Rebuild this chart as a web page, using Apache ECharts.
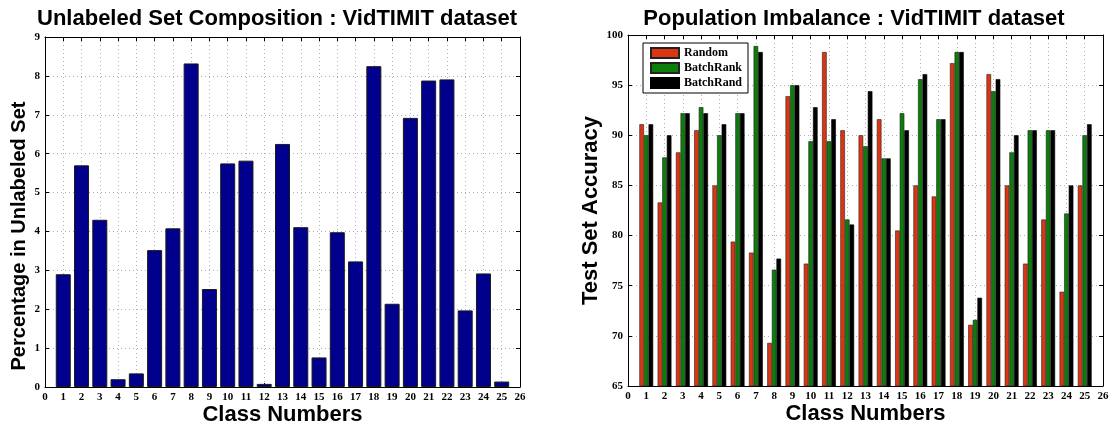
<!DOCTYPE html>
<html>
<head>
<meta charset="utf-8">
<script src="https://cdn.jsdelivr.net/npm/echarts@6/dist/echarts.min.js"></script>
<style>html,body{margin:0;padding:0;background:#fff;}#c{width:1110px;height:427px;}</style>
</head>
<body>
<div id="c"></div>
<script>
// ---- data ----
const classes = [1,2,3,4,5,6,7,8,9,10,11,12,13,14,15,16,17,18,19,20,21,22,23,24,25];
const unlabeledPct = [2.9,5.7,4.3,0.2,0.35,3.52,4.08,8.32,2.52,5.75,5.82,0.08,6.25,4.11,0.76,3.98,3.23,8.25,2.14,6.92,7.88,7.91,1.97,2.92,0.14];
const randomAcc    = [91.1,83.3,88.3,90.5,85.0,79.4,78.3,69.3,93.9,77.2,98.3,90.5,90.0,91.6,80.5,85.0,83.9,97.2,71.1,96.1,85.0,77.2,81.6,74.4,85.0];
const batchRankAcc = [90.0,87.8,92.2,92.8,90.0,92.2,98.9,76.6,95.0,89.4,89.4,81.6,88.9,87.7,92.2,95.6,91.6,98.3,71.6,94.4,88.3,90.5,90.5,82.2,90.0];
const batchRandAcc = [91.1,90.0,92.2,92.2,91.1,92.2,98.3,77.7,95.0,92.8,91.6,81.1,94.4,87.7,90.5,96.1,91.6,98.3,73.8,95.6,90.0,90.5,90.5,85.0,91.1];
const seriesNames = ['Random','BatchRank','BatchRand'];

const pair = (vals) => classes.map((c,i)=>[c, vals[i]]);
const tickFont = {fontFamily:'Liberation Serif, Times New Roman, serif', fontWeight:'bold', fontSize:11, color:'#000'};
const nameFont = {fontFamily:'Liberation Sans, Arial, sans-serif', fontWeight:'bold', fontSize:22, color:'#000'};
const splitDot = {show:true, lineStyle:{type:[1,3], color:'#b0b0b0', width:1}};

function xAx(gi, pos, showLabel){
  return {
    type:'value', gridIndex:gi, min:0, max:26, interval:1, position:pos,
    axisLine:{show:true, onZero:false, lineStyle:{color:'#000', width:1}},
    axisTick:{show:true, inside:true, length:4, lineStyle:{color:'#000'}},
    axisLabel:Object.assign({show:showLabel, margin:5}, tickFont),
    splitLine: showLabel ? splitDot : {show:false},
    name: showLabel ? 'Class Numbers' : '', nameLocation:'middle', nameGap:17,
    nameMoveOverlap:false,
    nameTextStyle: nameFont
  };
}
function yAx(gi, pos, min, max, interval, showLabel, name, gap, nameStyle){
  return {
    type:'value', gridIndex:gi, min:min, max:max, interval:interval, position:pos,
    axisLine:{show:true, onZero:false, lineStyle:{color:'#000', width:1}},
    axisTick:{show:true, inside:true, length:4, lineStyle:{color:'#000'}},
    axisLabel:Object.assign({show:showLabel, margin:5}, tickFont),
    splitLine: showLabel ? splitDot : {show:false},
    name: name || '', nameLocation:'middle', nameGap:gap || 20, nameRotate:90,
    nameTextStyle: nameStyle || nameFont
  };
}

const chart = echarts.init(document.getElementById('c'), null, {renderer:'canvas'});
chart.setOption({
  animation:false,
  backgroundColor:'#fff',
  title:[
    {text:'Unlabeled Set Composition : VidTIMIT dataset', left:272, top:3, textAlign:'center',
     textStyle:{fontFamily:'Liberation Sans, Arial, sans-serif', fontWeight:'bold', fontSize:22, color:'#000'}},
    {text:'Population Imbalance : VidTIMIT dataset', left:849, top:3, textAlign:'center',
     textStyle:{fontFamily:'Liberation Sans, Arial, sans-serif', fontWeight:'bold', fontSize:22, color:'#000'}}
  ],
  legend:{
    data:seriesNames, orient:'vertical', left:643, top:43,
    itemWidth:28, itemHeight:10, itemGap:3, padding:[4,6,4,7],
    borderColor:'#000', borderWidth:1, backgroundColor:'#fff',
    textStyle:{fontFamily:'Liberation Serif, Times New Roman, serif', fontWeight:'bold', fontSize:12, color:'#000'},
    icon:'rect'
  },
  grid:[
    {left:45, right:590, top:37, bottom:40, outerBoundsMode:'none', containLabel:false},
    {left:628, right:7, top:35, bottom:41, outerBoundsMode:'none', containLabel:false}
  ],
  xAxis:[ xAx(0,'bottom',true), xAx(0,'top',false), xAx(1,'bottom',true), xAx(1,'top',false) ],
  yAxis:[
    yAx(0,'left',0,9,1,true,'Percentage in Unlabeled Set',16,
        Object.assign({}, nameFont, {fontSize:20, padding:[0,48,0,0]})),
    yAx(0,'right',0,9,1,false),
    yAx(1,'left',65,100,5,true,'Test Set Accuracy',26),
    yAx(1,'right',65,100,5,false)
  ],
  series:[
    {type:'bar', xAxisIndex:0, yAxisIndex:0, data:pair(unlabeledPct), barWidth:15,
     itemStyle:{color:'#00008c', borderColor:'#1a1a1a', borderWidth:1}},
    {name:seriesNames[0], type:'bar', xAxisIndex:2, yAxisIndex:2, data:pair(randomAcc), barWidth:4.6, barGap:'0%',
     itemStyle:{color:'#dc3511', borderColor:'#222', borderWidth:0.6}},
    {name:seriesNames[1], type:'bar', xAxisIndex:2, yAxisIndex:2, data:pair(batchRankAcc), barWidth:4.6, barGap:'0%',
     itemStyle:{color:'#0b7d0b', borderColor:'#222', borderWidth:0.6}},
    {name:seriesNames[2], type:'bar', xAxisIndex:2, yAxisIndex:2, data:pair(batchRandAcc), barWidth:4.6, barGap:'0%',
     itemStyle:{color:'#000', borderColor:'#000', borderWidth:0.6}}
  ]
});
</script>
</body>
</html>
